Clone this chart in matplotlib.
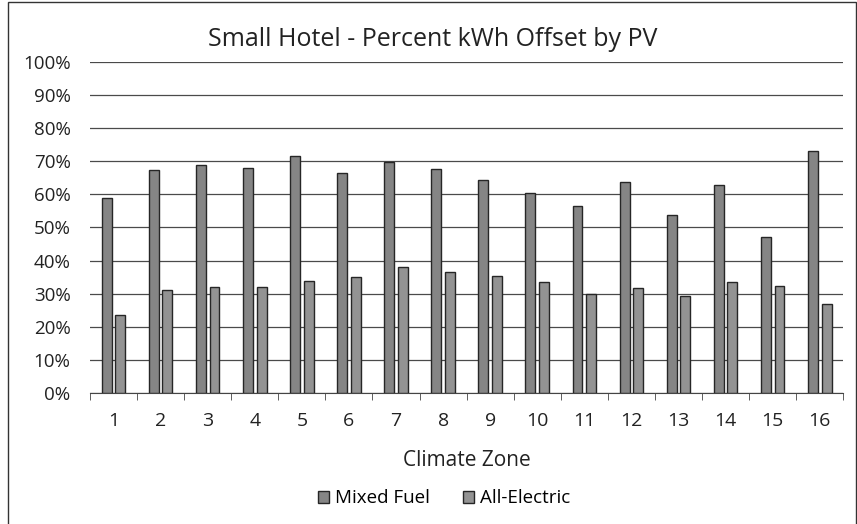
import numpy as np
import matplotlib.pyplot as plt
from matplotlib.patches import Rectangle

zones = [str(i) for i in range(1, 17)]
mixed_fuel = [0.59, 0.673, 0.688, 0.68, 0.715, 0.664, 0.697, 0.676,
              0.642, 0.603, 0.564, 0.636, 0.539, 0.627, 0.47, 0.73]
all_electric = [0.236, 0.31, 0.32, 0.32, 0.337, 0.35, 0.38, 0.364,
                0.352, 0.336, 0.30, 0.318, 0.294, 0.336, 0.324, 0.27]
yticks = np.arange(0, 1.01, 0.1)
ylabels = [f"{int(round(v * 100))}%" for v in yticks]

plt.rcParams['font.family'] = ['Open Sans', 'DejaVu Sans']

fig = plt.figure(figsize=(8.57, 5.24), dpi=100)
ax = fig.add_axes([0.105, 0.25, 0.879, 0.632])

x = np.arange(1, len(zones) + 1)
w = 0.21
ax.bar(x - 0.145, mixed_fuel, w, color='#858585', edgecolor='#262626', lw=1.0,
       label='Mixed Fuel', zorder=3)
ax.bar(x + 0.145, all_electric, w, color='#939393', edgecolor='#262626', lw=1.0,
       label='All-Electric', zorder=3)

ax.set_xlim(0.5, 16.5)
ax.set_ylim(0, 1.0)
ax.set_yticks(yticks)
ax.set_yticklabels(ylabels, fontsize=13.5, color='#222222')
ax.set_xticks(x)
ax.set_xticklabels(zones, fontsize=14, color='#222222')
ax.set_xticks(np.arange(0.5, 17, 1), minor=True)
ax.tick_params(axis='x', which='major', length=0, pad=14)
ax.tick_params(axis='x', which='minor', length=5, color='#444444')
ax.tick_params(axis='y', length=0, pad=14)
ax.grid(axis='y', color='#4a4a4a', lw=0.9, zorder=0)
for s in ['top', 'right', 'left']:
    ax.spines[s].set_visible(False)
ax.spines['bottom'].set_color('#444444')

# title sits centred on the whole chart, not the plot area
fig.text(0.505, 0.924, 'Small Hotel - Percent kWh Offset by PV', fontsize=18,
         color='#222222', ha='center', va='center')
ax.set_xlabel('Climate Zone', fontsize=15, color='#222222', labelpad=14)
ax.legend(loc='upper center', bbox_to_anchor=(0.47, -0.24), ncol=2,
          frameon=False, fontsize=13.5, handlelength=0.6, handleheight=0.6,
          columnspacing=1.8, handletextpad=0.3)

fig.patches.append(Rectangle((0.009, -0.01), 0.99, 1.006, transform=fig.transFigure,
                             fill=False, edgecolor='#333333', lw=1.0))

fig.savefig('out.png', dpi=100)
